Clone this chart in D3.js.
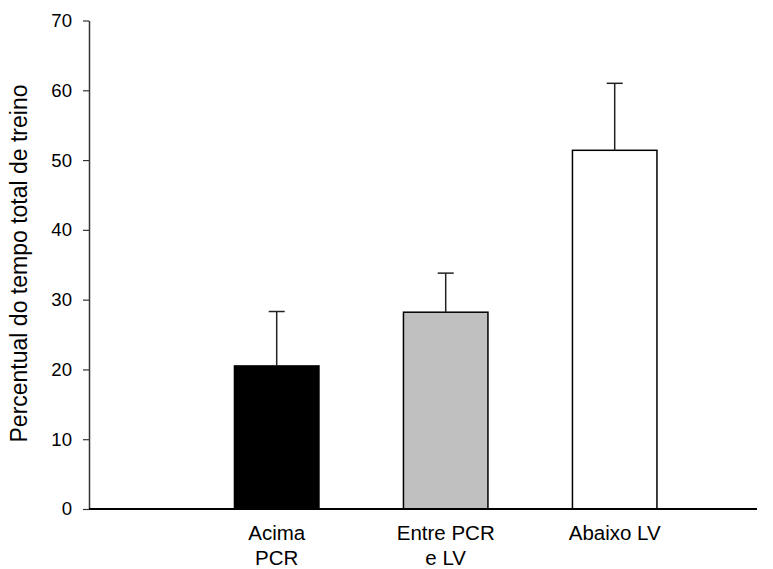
<!DOCTYPE html>
<html>
<head>
<meta charset="utf-8">
<script src="https://cdn.jsdelivr.net/npm/d3@7"></script>
<style>
  body { margin: 0; background: #fff; }
  text { font-family: "Liberation Sans", Arial, sans-serif; fill: #000; }
</style>
</head>
<body>
<div id="chart"></div>
<script>
// data
var categories = ["Acima PCR", "Entre PCR e LV", "Abaixo LV"];
var labelLines = [["Acima", "PCR"], ["Entre PCR", "e LV"], ["Abaixo LV"]];
var means = [20.5, 28.2, 51.4];
var errors = [7.8, 5.6, 9.6];
var fills = ["#000000", "#c0c0c0", "#ffffff"];
var yTicks = [0, 10, 20, 30, 40, 50, 60, 70];

var width = 773, height = 569;

var svg = d3.select("#chart")
  .append("svg")
    .attr("width", width)
    .attr("height", height);

var y = d3.scaleLinear()
    .domain([0, 70])
    .range([509, 20.5]);

var x = d3.scaleBand()
    .domain(categories)
    .range([192.2, 699.2])
    .paddingInner(0.5)
    .paddingOuter(0.25);

// y axis
var yAxis = svg.append("g")
    .attr("transform", "translate(89,0)")
    .call(d3.axisLeft(y).tickValues(yTicks).tickSize(6).tickPadding(11).tickSizeOuter(0));
yAxis.select(".domain").attr("stroke", "#333").attr("stroke-width", 1.5);
yAxis.selectAll(".tick line").attr("stroke", "#333").attr("stroke-width", 1.2);
yAxis.selectAll(".tick text")
    .style("font-size", "18.6px")
    .attr("fill", "#000")
    .style("font-family", "'Liberation Sans', Arial, sans-serif");

// bars
var bar = svg.selectAll("g.bar").data(means).enter().append("g").attr("class", "bar");

bar.append("rect")
    .attr("x", function(d, i) { return x(categories[i]); })
    .attr("y", function(d) { return y(d); })
    .attr("width", x.bandwidth())
    .attr("height", function(d) { return y(0) - y(d); })
    .attr("fill", function(d, i) { return fills[i]; })
    .attr("stroke", "#000")
    .attr("stroke-width", 1.5);

// error bars (upper only)
bar.append("line")
    .attr("x1", function(d, i) { return x(categories[i]) + x.bandwidth() / 2; })
    .attr("x2", function(d, i) { return x(categories[i]) + x.bandwidth() / 2; })
    .attr("y1", function(d) { return y(d); })
    .attr("y2", function(d, i) { return y(d + errors[i]); })
    .attr("stroke", "#222")
    .attr("stroke-width", 1.5);

bar.append("line")
    .attr("x1", function(d, i) { return x(categories[i]) + x.bandwidth() / 2 - 8; })
    .attr("x2", function(d, i) { return x(categories[i]) + x.bandwidth() / 2 + 8; })
    .attr("y1", function(d, i) { return y(d + errors[i]); })
    .attr("y2", function(d, i) { return y(d + errors[i]); })
    .attr("stroke", "#222")
    .attr("stroke-width", 1.5);

// x axis line
svg.append("line")
    .attr("x1", 89)
    .attr("x2", 757)
    .attr("y1", y(0))
    .attr("y2", y(0))
    .attr("stroke", "#000")
    .attr("stroke-width", 2.2);

// category labels
svg.selectAll("text.cat").data(categories).enter().append("text")
    .attr("class", "cat")
    .attr("text-anchor", "middle")
    .style("font-size", "20.5px")
    .attr("transform", function(d) { return "translate(" + (x(d) + x.bandwidth() / 2) + ",540)"; })
  .selectAll("tspan")
    .data(function(d, i) { return labelLines[i]; })
    .enter().append("tspan")
      .attr("x", 0)
      .attr("dy", function(d, i) { return i === 0 ? 0 : 25; })
      .text(function(d) { return d; });

// y axis title
svg.append("text")
    .attr("transform", "translate(27," + ((83 + 444) / 2) + ") rotate(-90)")
    .attr("text-anchor", "middle")
    .style("font-size", "23px")
    .text("Percentual do tempo total de treino");
</script>
</body>
</html>
